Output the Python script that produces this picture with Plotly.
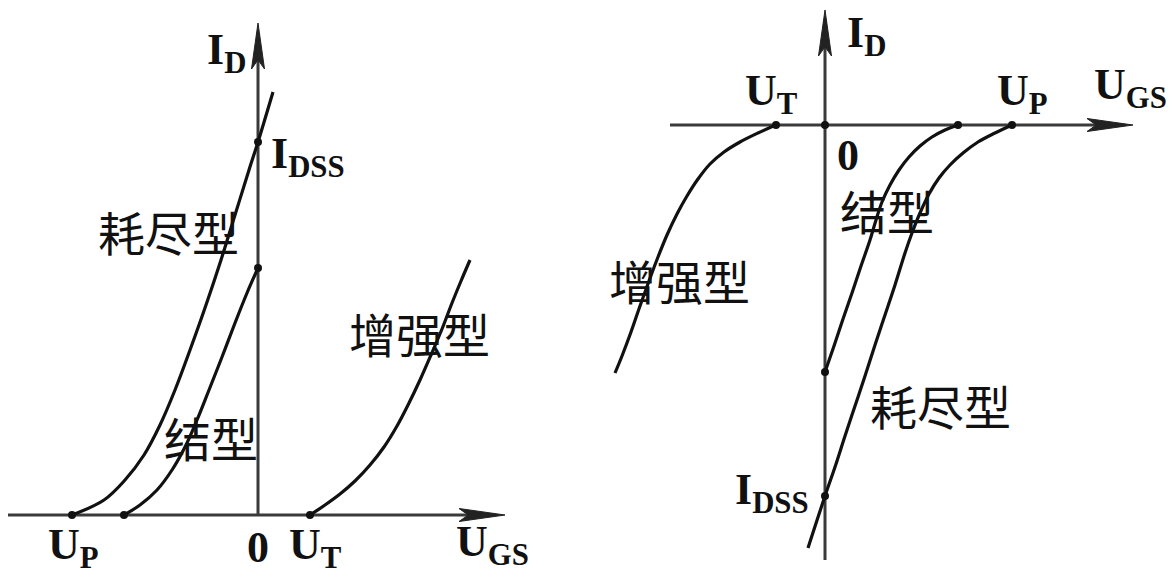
import plotly.graph_objects as go

# ---------------- data (U_GS, I_D in drawing units) ----------------
# N-channel panel (left)
n_dep_ugs = [-18.6, -15.4, -13.3, -11.4, -9.8, -8.3, -6.8, -5.2, -3.7, -2.3, -0.9, 0.0, 1.5]
n_dep_id = [0.0, 1.5, 3.5, 6.0, 9.0, 12.5, 16.5, 21.0, 25.5, 30.0, 34.5, 37.3, 42.3]
n_jfet_ugs = [-13.4, -11.8, -10.1, -8.6, -7.3, -6.1, -4.9, -3.6, -2.3, -1.1, 0.0]
n_jfet_id = [0.0, 1.0, 2.5, 4.5, 6.8, 9.5, 12.5, 15.8, 19.2, 22.2, 24.7]
n_enh_ugs = [5.2, 6.7, 8.2, 9.7, 11.2, 12.6, 13.9, 15.1, 16.2, 17.3, 18.4, 19.4, 20.3, 21.2]
n_enh_id = [0.0, 1.0, 2.1, 3.4, 5.0, 6.8, 8.9, 11.2, 13.5, 16.0, 18.6, 21.2, 23.4, 25.5]
n_marks_ugs = [-18.6, -13.4, 5.2, 0.0, 0.0]
n_marks_id = [0.0, 0.0, 0.0, 37.3, 24.7]

# P-channel panel (right)
p_enh_ugs = [-4.9, -6.7, -8.5, -10.1, -11.5, -12.7, -13.8, -14.8, -15.8, -16.7, -17.6, -18.5, -19.4, -20.3, -21.0]
p_enh_id = [0.0, -0.8, -1.7, -2.7, -3.9, -5.4, -7.1, -8.9, -11.0, -13.2, -15.6, -18.1, -20.7, -23.1, -24.8]
p_jfet_ugs = [13.3, 12.0, 10.7, 9.5, 8.4, 7.4, 6.5, 5.7, 5.1, 4.5, 3.6, 2.7, 1.8, 0.9, 0.0]
p_jfet_id = [0.0, -0.5, -1.2, -2.1, -3.2, -4.5, -6.0, -7.7, -9.5, -11.5, -14.1, -16.8, -19.4, -22.1, -24.7]
p_dep_ugs = [18.7, 17.0, 15.3, 13.8, 12.5, 11.4, 10.4, 9.5, 8.7, 8.0, 7.0, 6.0, 5.0, 4.0, 3.0, 2.0, 1.0, 0.0, -1.7]
p_dep_id = [0.0, -0.8, -1.7, -2.8, -4.0, -5.3, -6.9, -8.8, -10.8, -12.8, -16.0, -19.0, -22.0, -25.1, -28.1, -31.1, -34.2, -37.1, -42.3]
p_marks_ugs = [-4.9, 0.0, 13.3, 18.7, 0.0, 0.0]
p_marks_id = [0.0, 0.0, 0.0, 0.0, -24.7, -37.1]

# axis extents (start, arrow tip)
n_axis_x = (-25.0, 24.7)
n_axis_y = (0.0, 49.2)
p_axis_x = (-15.5, 30.8)
p_axis_y = (-43.5, 11.5)

# ---------------- layout geometry ----------------
W, H = 1171, 577
SCALE = 10.0                 # pixels per drawing unit
split_px = 585
n_origin = (258, 515)        # pixel position of the left origin
p_origin = (825, 125)        # pixel position of the right origin

CURVE = dict(color="#111111", width=3.2)
AXIS = dict(color="#3a3a3a", width=3)
HEAD_LEN, HEAD_HALF = 4.6, 0.65

fig = go.Figure()


def add_line(x, y, xa, ya, style, shape="spline"):
    fig.add_trace(go.Scatter(x=x, y=y, mode="lines", line=dict(**style, shape=shape),
                             xaxis=xa, yaxis=ya, hoverinfo="skip", showlegend=False))


def add_axis_arrow(start, tip, fixed, horizontal, xa, ya):
    # shaft
    if horizontal:
        add_line([start, tip - 1.0], [fixed, fixed], xa, ya, AXIS, "linear")
        hx = [tip, tip - HEAD_LEN, tip - 0.8 * HEAD_LEN, tip - HEAD_LEN, tip]
        hy = [fixed, fixed + HEAD_HALF, fixed, fixed - HEAD_HALF, fixed]
    else:
        add_line([fixed, fixed], [start, tip - 1.0], xa, ya, AXIS, "linear")
        hx = [fixed, fixed + HEAD_HALF, fixed, fixed - HEAD_HALF, fixed]
        hy = [tip, tip - HEAD_LEN, tip - 0.8 * HEAD_LEN, tip - HEAD_LEN, tip]
    fig.add_trace(go.Scatter(x=hx, y=hy, mode="lines", fill="toself", fillcolor="#222222",
                             line=dict(color="#222222", width=1), xaxis=xa, yaxis=ya,
                             hoverinfo="skip", showlegend=False))


# left panel
add_axis_arrow(*n_axis_x, 0.0, True, "x", "y")
add_axis_arrow(*n_axis_y, 0.0, False, "x", "y")
add_line(n_dep_ugs, n_dep_id, "x", "y", CURVE)
add_line(n_jfet_ugs, n_jfet_id, "x", "y", CURVE)
add_line(n_enh_ugs, n_enh_id, "x", "y", CURVE)
fig.add_trace(go.Scatter(x=n_marks_ugs, y=n_marks_id, mode="markers",
                         marker=dict(color="#111111", size=8), xaxis="x", yaxis="y",
                         hoverinfo="skip", showlegend=False))

# right panel
add_axis_arrow(*p_axis_x, 0.0, True, "x2", "y2")
add_axis_arrow(*p_axis_y, 0.0, False, "x2", "y2")
add_line(p_enh_ugs, p_enh_id, "x2", "y2", CURVE)
add_line(p_jfet_ugs, p_jfet_id, "x2", "y2", CURVE)
add_line(p_dep_ugs, p_dep_id, "x2", "y2", CURVE)
fig.add_trace(go.Scatter(x=p_marks_ugs, y=p_marks_id, mode="markers",
                         marker=dict(color="#111111", size=8), xaxis="x2", yaxis="y2",
                         hoverinfo="skip", showlegend=False))

# ---------------- labels ----------------
SYM = dict(family="Liberation Serif", size=44, color="#111111", weight="bold")
CJK = dict(family="Noto Sans CJK SC", size=47, color="#111111")

n_labels = [
    ("耗尽型", -9.0, 28.5, CJK),
    ("结型", -4.7, 7.9, CJK),
    ("增强型", 16.1, 18.3, CJK),
    ("I<sub>D</sub>", -3.2, 46.3, SYM),
    ("I<sub>DSS</sub>", 5.0, 35.9, SYM),
    ("U<sub>P</sub>", -18.5, -3.2, SYM),
    ("0", 0.0, -3.2, SYM),
    ("U<sub>T</sub>", 5.7, -3.2, SYM),
    ("U<sub>GS</sub>", 23.4, -2.9, SYM),
]
p_labels = [
    ("U<sub>T</sub>", -5.4, 3.2, SYM),
    ("U<sub>P</sub>", 19.7, 3.2, SYM),
    ("U<sub>GS</sub>", 30.5, 3.8, SYM),
    ("I<sub>D</sub>", 4.1, 9.0, SYM),
    ("0", 2.3, -3.0, SYM),
    ("结型", 6.2, -8.4, CJK),
    ("增强型", -14.6, -15.4, CJK),
    ("耗尽型", 11.5, -27.9, CJK),
    ("I<sub>DSS</sub>", -5.3, -36.7, SYM),
]
for labels, xr, yr in ((n_labels, "x", "y"), (p_labels, "x2", "y2")):
    for text, lx, ly, font in labels:
        fig.add_annotation(text=text, x=lx, y=ly, xref=xr, yref=yr, showarrow=False,
                           xanchor="center", yanchor="middle", font=font)

# ---------------- axes mapped so that one unit = SCALE pixels ----------------
def x_range(x0_px, x1_px, origin_px):
    return [(x0_px - origin_px) / SCALE, (x1_px - origin_px) / SCALE]


def y_range(origin_py):
    return [(origin_py - H) / SCALE, origin_py / SCALE]


hidden = dict(visible=False, fixedrange=True)
fig.update_layout(
    width=W, height=H, margin=dict(l=0, r=0, t=0, b=0),
    paper_bgcolor="white", plot_bgcolor="white", showlegend=False,
    xaxis=dict(domain=[0, split_px / W], range=x_range(0, split_px, n_origin[0]), **hidden),
    yaxis=dict(domain=[0, 1], range=y_range(n_origin[1]), **hidden),
    xaxis2=dict(domain=[split_px / W, 1], range=x_range(split_px, W, p_origin[0]), **hidden),
    yaxis2=dict(domain=[0, 1], range=y_range(p_origin[1]), anchor="x2", **hidden),
)

fig.write_html("out.html")
